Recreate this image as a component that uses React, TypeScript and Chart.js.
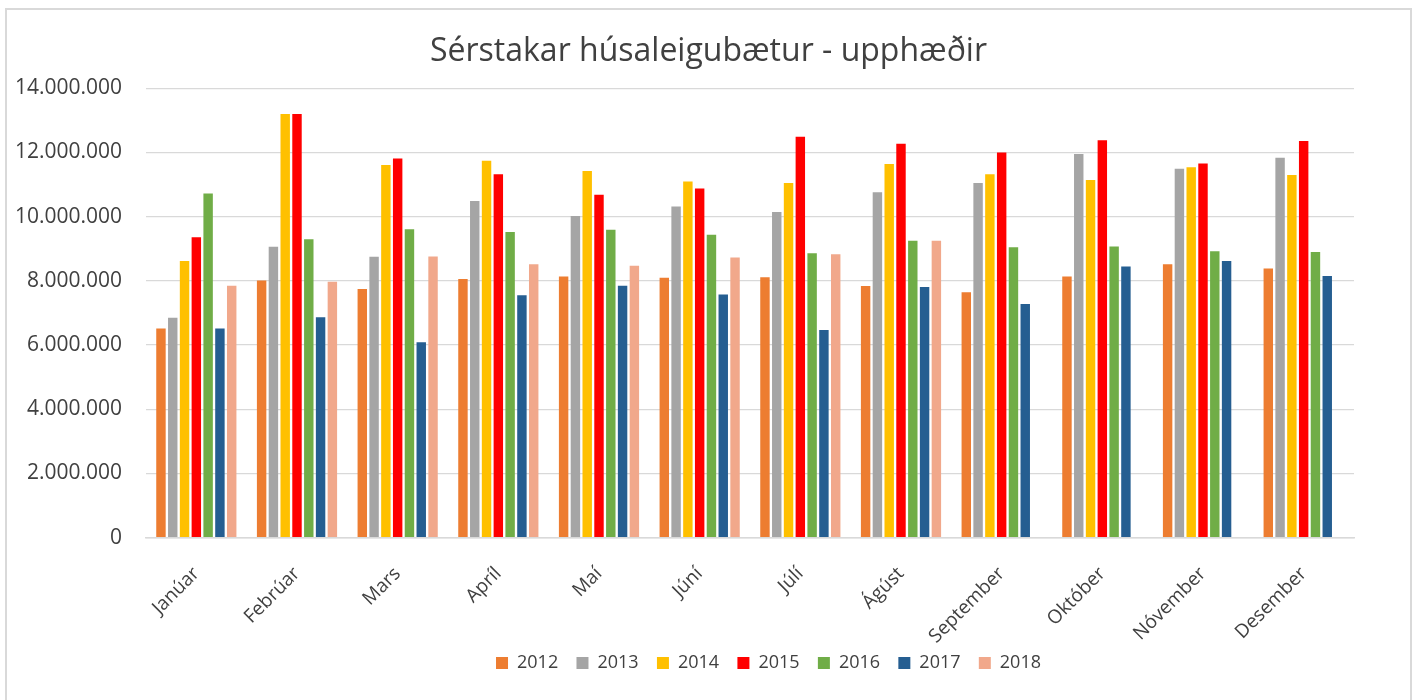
import React, { useEffect, useRef } from "react";
import { Chart, registerables } from "chart.js";

Chart.register(...registerables);

const months = ["Janúar", "Febrúar", "Mars", "Apríl", "Maí", "Júní", "Júlí", "Ágúst", "September", "Október", "Nóvember", "Desember"];
const seriesLabels = ["2012", "2013", "2014", "2015", "2016", "2017", "2018"];
const v2012 = [6520000, 8010000, 7750000, 8060000, 8140000, 8100000, 8110000, 7840000, 7650000, 8140000, 8520000, 8390000];
const v2013 = [6850000, 9060000, 8750000, 10490000, 10020000, 10320000, 10150000, 10760000, 11050000, 11950000, 11490000, 11840000];
const v2014 = [8620000, 13200000, 11610000, 11740000, 11420000, 11100000, 11050000, 11640000, 11320000, 11140000, 11540000, 11300000];
const v2015 = [9360000, 13200000, 11810000, 11320000, 10680000, 10880000, 12490000, 12270000, 12000000, 12380000, 11660000, 12360000];
const v2016 = [10720000, 9300000, 9610000, 9520000, 9590000, 9440000, 8860000, 9250000, 9050000, 9070000, 8920000, 8900000];
const v2017 = [6520000, 6870000, 6090000, 7550000, 7850000, 7580000, 6470000, 7810000, 7280000, 8450000, 8620000, 8150000];
const v2018 = [7850000, 7970000, 8760000, 8520000, 8470000, 8730000, 8830000, 9250000, null, null, null, null];
const colors = ["#ED7D31", "#A5A5A5", "#FFC000", "#FF0000", "#70AD47", "#255E91", "#F1A88B"];
const title = "Sérstakar húsaleigubætur - upphæðir";

const FONT = "'Open Sans', 'Noto Sans', sans-serif";
const TEXT = "#404040";

function fmt(v: number): string {
  return String(Math.round(v)).replace(/\B(?=(\d{3})+(?!\d))/g, ".");
}

const legendShift = {
  id: "legendShift",
  afterLayout(chart: any) {
    if (chart.legend) {
      chart.legend.left += 60;
      chart.legend.right += 60;
      chart.legend.top -= 12;
      chart.legend.bottom -= 12;
    }
  },
};

export default function App() {
  const ref = useRef<HTMLCanvasElement | null>(null);
  useEffect(() => {
    if (!ref.current) return;
    const all = [v2012, v2013, v2014, v2015, v2016, v2017, v2018];
    const chart = new Chart(ref.current, {
      type: "bar",
      data: {
        labels: months,
        datasets: all.map((d, i) => ({
          label: seriesLabels[i],
          data: d,
          backgroundColor: colors[i],
          borderWidth: 0,
          categoryPercentage: 0.82,
          barPercentage: 0.8,
        })),
      },
      options: {
        responsive: false,
        animation: false,
        layout: { padding: { left: 0, right: 0, top: 0, bottom: 6 } },
        plugins: {
          title: {
            display: true,
            text: title,
            color: TEXT,
            font: { family: FONT, size: 32, weight: "normal" },
            padding: { top: 33, bottom: 16.9 },
          },
          legend: {
            position: "bottom",
            labels: {
              color: TEXT,
              font: { family: FONT, size: 18 },
              boxWidth: 12,
              boxHeight: 12,
              padding: 18.3,
            },
          },
          tooltip: { enabled: false },
        },
        scales: {
          x: {
            grid: { display: false },
            border: { display: true, color: "#D9D9D9", width: 1.5 },
            ticks: {
              color: TEXT,
              font: { family: FONT, size: 19 },
              maxRotation: 45,
              minRotation: 45,
              autoSkip: false,
              padding: 17,
            },
            afterFit: (s: any) => { s.height = 110; },
          },
          y: {
            min: 0,
            max: 14000000,
            border: { display: false },
            grid: { color: "#D9D9D9", lineWidth: 1.3, drawTicks: false },
            ticks: {
              stepSize: 2000000,
              color: TEXT,
              font: { family: FONT, size: 21 },
              padding: 24,
              callback: (v: any) => fmt(Number(v)),
            },
            afterFit: (s: any) => { s.width = 146; },
          },
          y2: {
            position: "right",
            display: true,
            grid: { display: false },
            border: { display: false },
            ticks: { display: false },
            afterFit: (s: any) => { s.width = 63; },
          },
        },
      },
      plugins: [legendShift],
    } as any);
    return () => chart.destroy();
  }, []);

  return (
    <div>
      <div
        style={{
          position: "absolute",
          left: 5,
          top: 8,
          width: 1407,
          height: 692,
          border: "2px solid #D9D9D9",
          borderBottom: "none",
          boxSizing: "border-box",
        }}
      />
      <canvas
        ref={ref}
        width={1417}
        height={700}
        style={{ position: "absolute", left: 0, top: 0, display: "block" }}
      />
    </div>
  );
}
